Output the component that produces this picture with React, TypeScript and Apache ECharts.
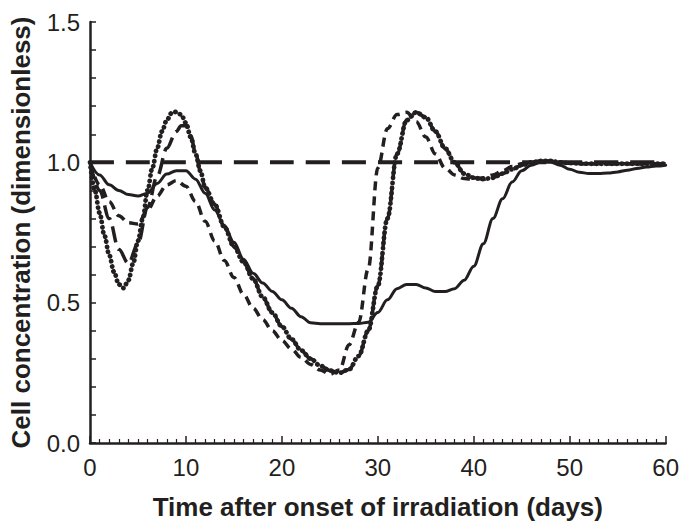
import React, { useEffect, useRef } from "react";
import * as echarts from "echarts";

const INK = "#231f20";

const xTickLabels = ["0", "10", "20", "30", "40", "50", "60"];
const yTickLabels = ["0.0", "0.5", "1.0", "1.5"];

const controlT = [0, 60];
const controlV = [1.0, 1.0];

// solid curve
const solidT = [0, 1, 2, 3, 4, 5, 6, 7, 8, 9, 10, 11, 12, 13, 14, 15, 16, 17, 18, 19, 20, 21, 22, 23, 24, 25, 26, 27, 28, 29, 30, 31, 32, 33, 34, 35, 36, 37, 38, 39, 40, 41, 42, 43, 44, 45, 46, 47, 48, 49, 50, 51, 52, 53, 54, 55, 56, 57, 58, 59, 60];
const solidV = [1.0, 0.955, 0.92, 0.9, 0.885, 0.88, 0.89, 0.925, 0.958, 0.97, 0.97, 0.94, 0.89, 0.83, 0.775, 0.715, 0.655, 0.605, 0.57, 0.54, 0.51, 0.48, 0.45, 0.428, 0.425, 0.425, 0.425, 0.425, 0.426, 0.43, 0.465, 0.51, 0.55, 0.565, 0.565, 0.552, 0.54, 0.54, 0.55, 0.58, 0.63, 0.71, 0.8, 0.87, 0.93, 0.97, 0.99, 1.0, 1.0, 0.99, 0.975, 0.965, 0.96, 0.96, 0.962, 0.966, 0.972, 0.978, 0.983, 0.987, 0.99];

// short-dashed curve
const shortDashT = [0, 1, 2, 3, 4, 5, 6, 7, 8, 9, 10, 11, 12, 13, 14, 15, 16, 17, 18, 19, 20, 21, 22, 23, 24, 25, 26, 27, 28, 29, 30, 31, 32, 33, 34, 35, 36, 37, 38, 39, 40, 41, 42, 43, 44, 45, 46, 47, 48, 49, 50, 52, 54, 56, 58, 60];
const shortDashV = [1.0, 0.92, 0.86, 0.81, 0.785, 0.78, 0.83, 0.88, 0.92, 0.935, 0.915, 0.86, 0.79, 0.72, 0.65, 0.59, 0.53, 0.48, 0.44, 0.4, 0.365, 0.335, 0.305, 0.28, 0.26, 0.245, 0.26, 0.35, 0.43, 0.62, 0.98, 1.12, 1.17, 1.178, 1.145, 1.09, 1.03, 0.98, 0.955, 0.942, 0.94, 0.945, 0.955, 0.97, 0.985, 0.995, 1.0, 1.005, 1.005, 1.0, 0.997, 0.995, 0.995, 0.995, 0.995, 0.995];

// long-dashed curve
const longDashT = [0, 1, 2, 3, 4, 5, 6, 7, 8, 9, 9.5, 10, 10.5, 11, 11.5, 12, 13, 14, 15, 16, 17, 18, 19, 20, 21, 22, 23, 24, 25, 26, 27, 28, 29, 30, 31, 32, 33, 34, 35, 36, 37, 38, 39, 40, 41, 42, 43, 44, 45, 46, 47, 48, 49, 50, 52, 54, 56, 58, 60];
const longDashV = [1.0, 0.9, 0.8, 0.69, 0.64, 0.71, 0.84, 0.95, 1.05, 1.11, 1.13, 1.13, 1.095, 1.035, 0.97, 0.91, 0.85, 0.77, 0.7, 0.645, 0.585, 0.52, 0.465, 0.415, 0.37, 0.33, 0.3, 0.275, 0.258, 0.25, 0.262, 0.31, 0.4, 0.56, 0.8, 1.03, 1.15, 1.178, 1.16, 1.11, 1.05, 1.0, 0.96, 0.945, 0.94, 0.945, 0.96, 0.975, 0.99, 1.0, 1.005, 1.005, 1.0, 0.997, 0.995, 0.995, 0.995, 0.995, 0.995];

// dotted curve
const dottedT = [0, 0.5, 1, 1.5, 2, 2.5, 3, 3.5, 4, 4.5, 5, 5.5, 6, 6.5, 7, 7.5, 8, 8.5, 9, 9.5, 10, 10.5, 11, 11.5, 12, 13, 14, 15, 16, 17, 18, 19, 20, 21, 22, 23, 24, 25, 26, 27, 28, 29, 30, 31, 32, 33, 34, 35, 36, 37, 38, 39, 40, 41, 42, 43, 44, 45, 46, 47, 48, 49, 50, 52, 54, 56, 58, 60];
const dottedV = [1.0, 0.9, 0.82, 0.74, 0.67, 0.61, 0.565, 0.552, 0.58, 0.64, 0.72, 0.8, 0.9, 0.98, 1.05, 1.11, 1.15, 1.175, 1.18, 1.17, 1.14, 1.09, 1.03, 0.97, 0.91, 0.85, 0.77, 0.7, 0.645, 0.585, 0.52, 0.465, 0.415, 0.37, 0.33, 0.3, 0.275, 0.258, 0.25, 0.262, 0.31, 0.4, 0.56, 0.8, 1.03, 1.15, 1.178, 1.16, 1.11, 1.05, 1.0, 0.96, 0.945, 0.94, 0.945, 0.96, 0.975, 0.99, 1.0, 1.005, 1.005, 1.0, 0.997, 0.995, 0.995, 0.995, 0.995, 0.995];

const zip = (t: number[], v: number[]) => t.map((x, i) => [x, v[i]]);

export default function App() {
  const ref = useRef<HTMLDivElement>(null);
  useEffect(() => {
    if (!ref.current) return;
    const chart = echarts.init(ref.current, null, { renderer: "svg" });
    const fontFamily = "'Liberation Sans', Arial, sans-serif";
    const line = (name: string, data: number[][], type: any, cap: string, width: number) => ({
      name,
      type: "line",
      data,
      showSymbol: false,
      symbol: "none",
      smooth: 0.35,
      smoothMonotone: "x",
      lineStyle: { color: INK, width, type, cap },
      z: 3,
    });
    chart.setOption({
      animation: false,
      backgroundColor: "#ffffff",
      grid: { left: 90, right: 13, top: 22, bottom: 80, containLabel: false },
      xAxis: {
        type: "value",
        min: 0,
        max: 60,
        interval: 10,
        name: "Time after onset of irradiation (days)",
        nameLocation: "middle",
        nameGap: 51,
        nameTextStyle: { color: INK, fontSize: 26, fontWeight: "bold", fontFamily },
        axisLine: { show: true, onZero: false, lineStyle: { color: INK, width: 2.5 } },
        axisTick: { show: true, inside: true, length: 7, lineStyle: { color: INK, width: 1.5 } },
        minorTick: { show: true, splitNumber: 10, length: 4, lineStyle: { color: INK, width: 1.2 } },
        splitLine: { show: false },
        axisLabel: {
          color: INK,
          fontSize: 24,
          fontFamily,
          margin: 12,
          formatter: (v: number) => xTickLabels[Math.round(v / 10)] ?? "",
        },
      },
      yAxis: {
        type: "value",
        min: 0,
        max: 1.5,
        interval: 0.1,
        name: "Cell concentration (dimensionless)",
        nameLocation: "middle",
        nameGap: 56,
        nameTextStyle: { color: INK, fontSize: 26, fontWeight: "bold", fontFamily },
        axisLine: { show: true, onZero: false, lineStyle: { color: INK, width: 2.5 } },
        axisTick: { show: true, inside: true, length: 6, lineStyle: { color: INK, width: 1.5 } },
        splitLine: { show: false },
        axisLabel: {
          color: INK,
          fontSize: 24,
          fontFamily,
          margin: 10,
          formatter: (v: number) => {
            const k = Math.round(v * 10);
            if (k % 5 !== 0) return "";
            return yTickLabels[k / 5] ?? "";
          },
        },
      },
      series: [
        line("Solid", zip(solidT, solidV), "solid", "round", 3),
        line("Short dashed", zip(shortDashT, shortDashV), [9, 6], "butt", 3.5),
        line("Long dashed", zip(longDashT, longDashV), [16, 7], "butt", 3.5),
        line("Dotted", zip(dottedT, dottedV), [0.1, 5], "round", 4.8),
        line("Control", zip(controlT, controlV), [24, 12], "butt", 4),
      ],
    });
    return () => chart.dispose();
  }, []);
  return (
    <div
      ref={ref}
      style={{ position: "absolute", left: 0, top: 0, width: 682, height: 525, background: "#fff" }}
    />
  );
}
